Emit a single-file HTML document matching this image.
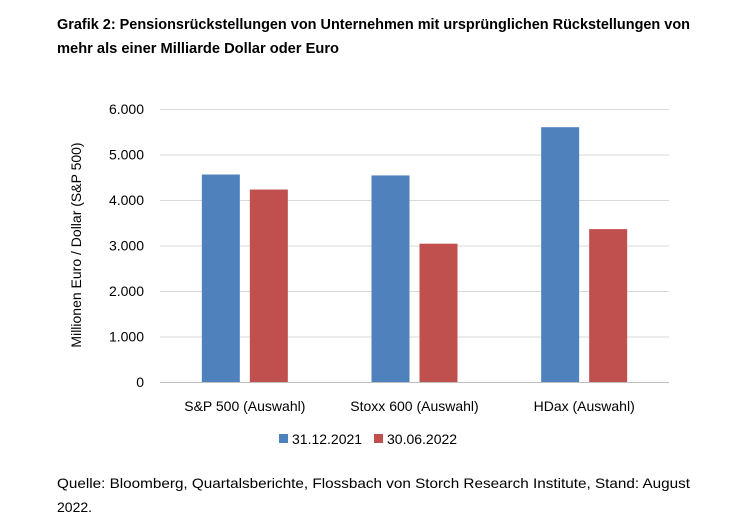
<!DOCTYPE html>
<html><head><meta charset="utf-8"><style>
html,body{margin:0;padding:0;background:#fff;}
svg{display:block;font-family:"Liberation Sans",sans-serif;}
</style></head><body>
<svg id="chart" width="755" height="532" viewBox="0 0 755 532">
<text x="57" y="29" font-size="14.5" font-weight="bold" fill="#000" textLength="633" lengthAdjust="spacingAndGlyphs">Grafik 2: Pensionsrückstellungen von Unternehmen mit ursprünglichen Rückstellungen von</text>
<text x="57" y="53" font-size="14.5" font-weight="bold" fill="#000" textLength="282" lengthAdjust="spacingAndGlyphs">mehr als einer Milliarde Dollar oder Euro</text>
<g id="grid"></g>
<g id="yticks"></g>
<g id="bars"></g>
<g id="xlabels"></g>
<text transform="translate(81,245) rotate(-90)" text-anchor="middle" font-size="14" fill="#000">Millionen Euro / Dollar (S&amp;P 500)</text>
<g>
<g><rect x="279" y="434" width="9" height="9" fill="#4f81bd"/><text x="292" y="444" font-size="14">31.12.2021</text></g>
<g><rect x="374" y="434" width="9" height="9" fill="#c0504d"/><text x="387" y="444" font-size="14">30.06.2022</text></g>
</g>
<text x="57" y="488" font-size="14" fill="#000" textLength="633" lengthAdjust="spacingAndGlyphs">Quelle: Bloomberg, Quartalsberichte, Flossbach von Storch Research Institute, Stand: August</text>
<text x="57" y="512" font-size="14" fill="#000">2022.</text>
</svg>
<script>
const categories = ["S&P 500 (Auswahl)", "Stoxx 600 (Auswahl)", "HDax (Auswahl)"];
const series2021 = [4560, 4540, 5600];
const series2022 = [4230, 3040, 3360];
const yTicks = [0, 1000, 2000, 3000, 4000, 5000, 6000];
const yTickLabels = ["0", "1.000", "2.000", "3.000", "4.000", "5.000", "6.000"];

const NS = "http://www.w3.org/2000/svg";
const x0 = 160, x1 = 669, yBase = 382, yTop = 109, yMax = 6000;
const yScale = v => yBase - (v / yMax) * (yBase - yTop);
const band = (x1 - x0) / categories.length;
const xCenter = i => x0 + band * (i + 0.5);
function mk(tag, attrs, parent){const e=document.createElementNS(NS,tag);for(const k in attrs)e.setAttribute(k,attrs[k]);parent.appendChild(e);return e;}
const grid=document.getElementById('grid'), yt=document.getElementById('yticks'), bars=document.getElementById('bars'), xl=document.getElementById('xlabels');
yTicks.forEach((v,i)=>{
  const y=yScale(v)+0.5;
  const l=mk('line',{x1:x0,x2:x1,y1:y,y2:y,stroke:v===0?'#bfbfbf':'#d9d9d9','stroke-width':1},grid);
  
  
  const t=mk('text',{x:144,y:yScale(v)+5,'text-anchor':'end','font-size':14,fill:'#000'},yt);
  t.textContent=yTickLabels[i];
  
  
});
const bw=38, gap=10;
categories.forEach((c,i)=>{
  const cx=xCenter(i);
  const b1=mk('rect',{x:cx-gap/2-bw,y:yScale(series2021[i]),width:bw,height:yBase-yScale(series2021[i]),fill:'#4f81bd'},bars);
  
  
  const b2=mk('rect',{x:cx+gap/2,y:yScale(series2022[i]),width:bw,height:yBase-yScale(series2022[i]),fill:'#c0504d'},bars);
  
  
  const t=mk('text',{x:cx,y:411,'text-anchor':'middle','font-size':14,fill:'#000'},xl);
  t.textContent=c;
  
  
});
</script>
</body></html>
